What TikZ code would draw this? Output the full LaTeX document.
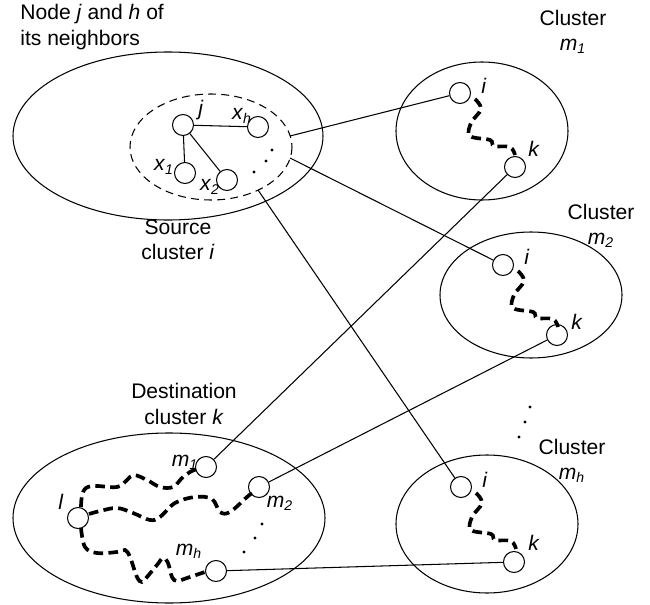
\documentclass[tikz,border=0pt]{standalone}
\usepackage{fontspec}
\setmainfont{Liberation Sans}
\usetikzlibrary{positioning}

\newcommand{\isub}[2]{\textit{#1}\textsubscript{\textit{#2}}}

\tikzset{
  vtx/.style={circle, draw, fill=white, minimum size=0.42cm, inner sep=0pt, line width=0.6pt},
  link/.style={line width=0.6pt},
  route/.style={line width=2.1pt, dash pattern=on 5.5pt off 3pt},
  lbl/.style={font=\fontsize{12}{14.5}\selectfont, inner sep=0pt},
}

\begin{document}
\begin{tikzpicture}[x=0.02cm, y=-0.02cm]
\useasboundingbox (0,0) rectangle (650,605);

% cluster outlines
\draw[link] (168,136) ellipse [x radius=155, y radius=84];
\draw[link, dash pattern=on 4.5pt off 3pt] (211,147) ellipse [x radius=81, y radius=53];
\draw[link] (482,131) ellipse [x radius=86, y radius=69];
\draw[link] (531,295) ellipse [x radius=91, y radius=63];
\draw[link] (487,524) ellipse [x radius=91, y radius=69];
\draw[link] (169,518) ellipse [x radius=156, y radius=85];

% source cluster: node j and its neighbors
\node[vtx] (j)  at (183,125) {};
\node[vtx] (xh) at (258,127) {};
\node[vtx] (x1) at (185,173) {};
\node[vtx] (x2) at (227,180) {};
\draw[link] (j) -- (xh);
\draw[link] (j) -- (x1);
\draw[link] (j) -- (x2);
\fill (272,150) circle (1.6);
\fill (266,161) circle (1.6);
\fill (254,172) circle (1.6);
\node[lbl] at (201,110) {\textit{j}};
\node[lbl] at (242,116) {\isub{x}{h}};
\node[lbl] at (164,167) {\isub{x}{1}};
\node[lbl] at (210,187) {\isub{x}{2}};

% clusters m1, m2, mh
\node[vtx] (m1i) at (460,93)  {};
\node[vtx] (m1k) at (515,167) {};
\node[vtx] (m2i) at (503,265) {};
\node[vtx] (m2k) at (557,335) {};
\node[vtx] (mhi) at (461,487) {};
\node[vtx] (mhk) at (514,562) {};
\foreach \c in {m1i, m2i, mhi}
  \draw[route, shift={(\c)}] plot[smooth, tension=0.6] coordinates
    {(15,6) (21,16) (11,30) (10,43) (30,47) (34,53) (50,54) (55,62)};
\node[lbl] at (484,86)  {\textit{i}};
\node[lbl] at (534,149) {\textit{k}};
\node[lbl] at (527,257) {\textit{i}};
\node[lbl] at (577,322) {\textit{k}};
\node[lbl] at (485,480) {\textit{i}};
\node[lbl] at (534,543) {\textit{k}};
\fill (530,407) circle (1.6);
\fill (525,422) circle (1.6);
\fill (519,437) circle (1.6);

% destination cluster k
\node[vtx] (dl)  at (78,518)  {};
\node[vtx] (dm1) at (206,467) {};
\node[vtx] (dm2) at (259,487) {};
\node[vtx] (dmh) at (216,571) {};
\draw[route] plot[smooth, tension=0.6] coordinates
  {(81,507) (83,492) (92,486) (117,487) (127,480) (134,475) (147,480)
   (160,487) (173,487) (182,478) (190,472) (197,469)};
\draw[route] plot[smooth, tension=0.6] coordinates
  {(89,514) (100,511) (117,508) (133,513) (150,520) (160,517) (175,503)
   (195,497) (212,499) (220,512) (230,512) (247,497) (252,493)};
\draw[route] plot[smooth, tension=0.6] coordinates
  {(81,528) (85,547) (97,553) (117,552) (125,550) (130,557) (137,577)
   (142,582) (147,577) (157,565) (163,558) (168,563) (172,577) (177,581)
   (187,578) (205,572)};
\fill (262,524) circle (1.6);
\fill (255,538) circle (1.6);
\fill (244,552) circle (1.6);
\node[lbl] at (61,502)  {\textit{l}};
\node[lbl] at (185,462) {\isub{m}{1}};
\node[lbl] at (280,503) {\isub{m}{2}};
\node[lbl] at (189,551) {\isub{m}{h}};

% links between clusters
\coordinate (s1) at (290,136);
\coordinate (s2) at (290,158);
\coordinate (s3) at (258,190);
\draw[link] (s1) -- (m1i);
\draw[link] (s2) -- (m2i);
\draw[link] (s3) -- (mhi);
\draw[link] (m1k) -- (dm1);
\draw[link] (m2k) -- (dm2);
\draw[link] (dmh) -- (mhk);

% captions
\node[lbl, align=left, anchor=north west] (cap) at (20,4) {Node \textit{j} and \textit{h} of\\its neighbors};
\node[lbl, align=center] (src) at (178,240) {Source\\cluster \textit{i}};
\node[lbl, align=center] (dst) at (184,404) {Destination\\cluster \textit{k}};
\node[lbl, align=center] (cm1) at (573,32) {Cluster\\\isub{m}{1}};
\node[lbl, align=center] (cm2) at (601,226) {Cluster\\\isub{m}{2}};
\node[lbl, align=center] (cmh) at (572,461) {Cluster\\\isub{m}{h}};
\end{tikzpicture}
\end{document}
